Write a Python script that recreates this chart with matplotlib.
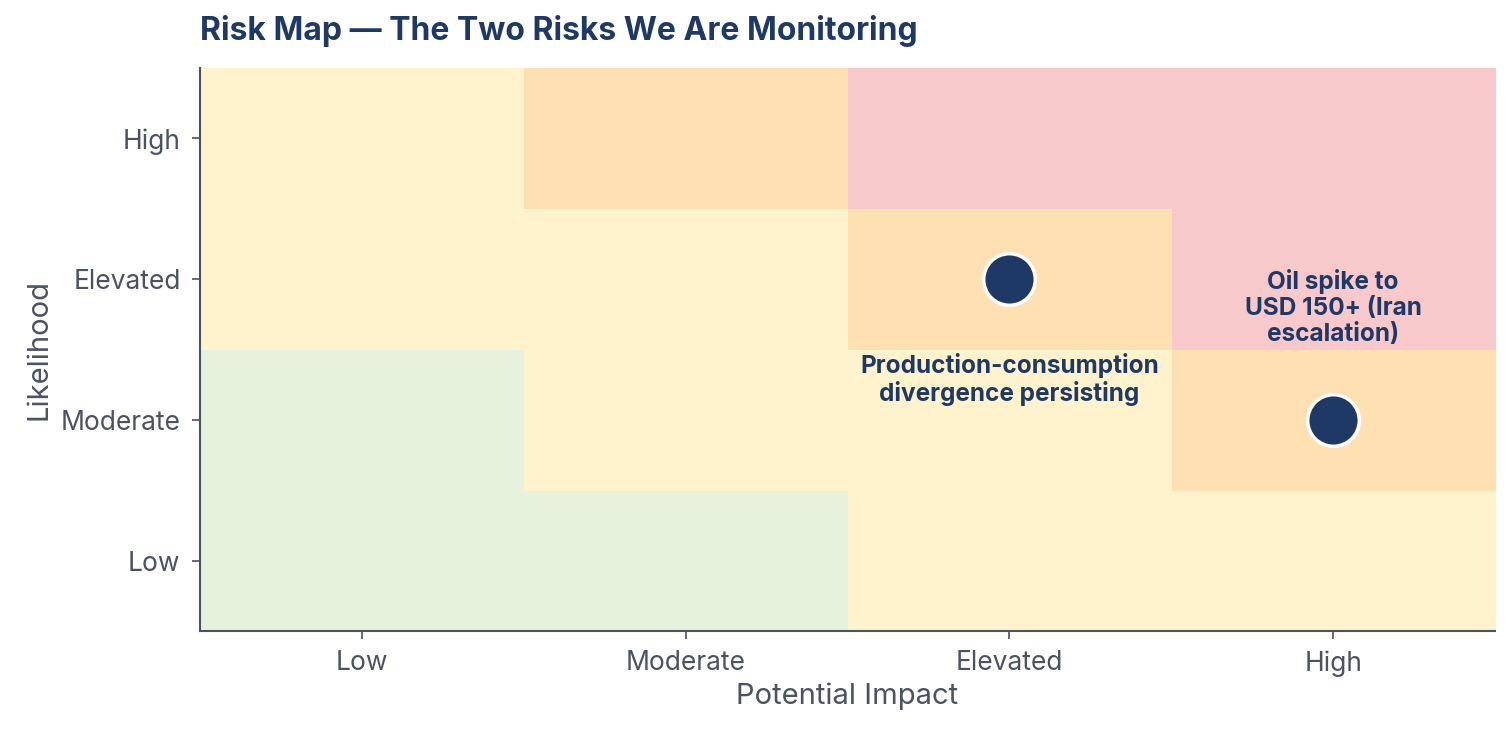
import numpy as np
import matplotlib.pyplot as plt
from matplotlib.colors import ListedColormap

# 数据
impact_labels = ['Low', 'Moderate', 'Elevated', 'High']
likelihood_labels = ['Low', 'Moderate', 'Elevated', 'High']
# 风险等级: 0=低 1=中 2=较高 3=高 (行=可能性 Low->High, 列=影响 Low->High)
risk_grid = [
    [0, 0, 1, 1],
    [0, 1, 1, 2],
    [1, 1, 2, 3],
    [1, 2, 3, 3],
]
risk_names = ['Production-consumption\ndivergence persisting',
              'Oil spike to\nUSD 150+ (Iran\nescalation)']
risk_impact = [2, 3]
risk_likelihood = [2, 1]
label_y = [1.29, 1.8]

zone_colors = ['#E6F2DC', '#FEF3CD', '#FEE0B2', '#F7C9CB']
navy = '#1E3966'
grey = '#4B5262'

plt.rcParams['font.family'] = ['Inter', 'DejaVu Sans']

fig = plt.figure(figsize=(15.12, 7.31), dpi=100)
ax = fig.add_axes([0.1323, 0.1368, 0.8565, 0.770])

ax.imshow(np.array(risk_grid), cmap=ListedColormap(zone_colors), vmin=-0.5, vmax=3.5,
          origin='lower', aspect='auto', extent=(-0.5, 3.5, -0.5, 3.5))

ax.scatter(risk_impact, risk_likelihood, s=1380, color=navy, edgecolor='white',
           linewidth=2.5, zorder=3)
for name, x, y in zip(risk_names, risk_impact, label_y):
    ax.text(x, y, name, ha='center', va='center', fontsize=17.5, fontweight='bold',
            color=navy, linespacing=1.15, zorder=4)

ax.set_xlim(-0.5, 3.5)
ax.set_ylim(-0.5, 3.5)
ax.set_xticks(range(4))
ax.set_xticklabels(impact_labels)
ax.set_yticks(range(4))
ax.set_yticklabels(likelihood_labels)
ax.tick_params(labelsize=19, colors=grey, length=6, width=1.2, pad=8)
ax.set_xlabel('Potential Impact', fontsize=21, color=grey, labelpad=4)
ax.set_ylabel('Likelihood', fontsize=21, color=grey, labelpad=6)
for s in ['top', 'right']:
    ax.spines[s].set_visible(False)
for s in ['left', 'bottom']:
    ax.spines[s].set_color(grey)
    ax.spines[s].set_linewidth(1.5)

fig.text(0.1323, 0.957, 'Risk Map — The Two Risks We Are Monitoring', fontsize=23,
         fontweight='bold', color=navy, ha='left', va='center')

plt.savefig('out.png', dpi=100, facecolor='white')
